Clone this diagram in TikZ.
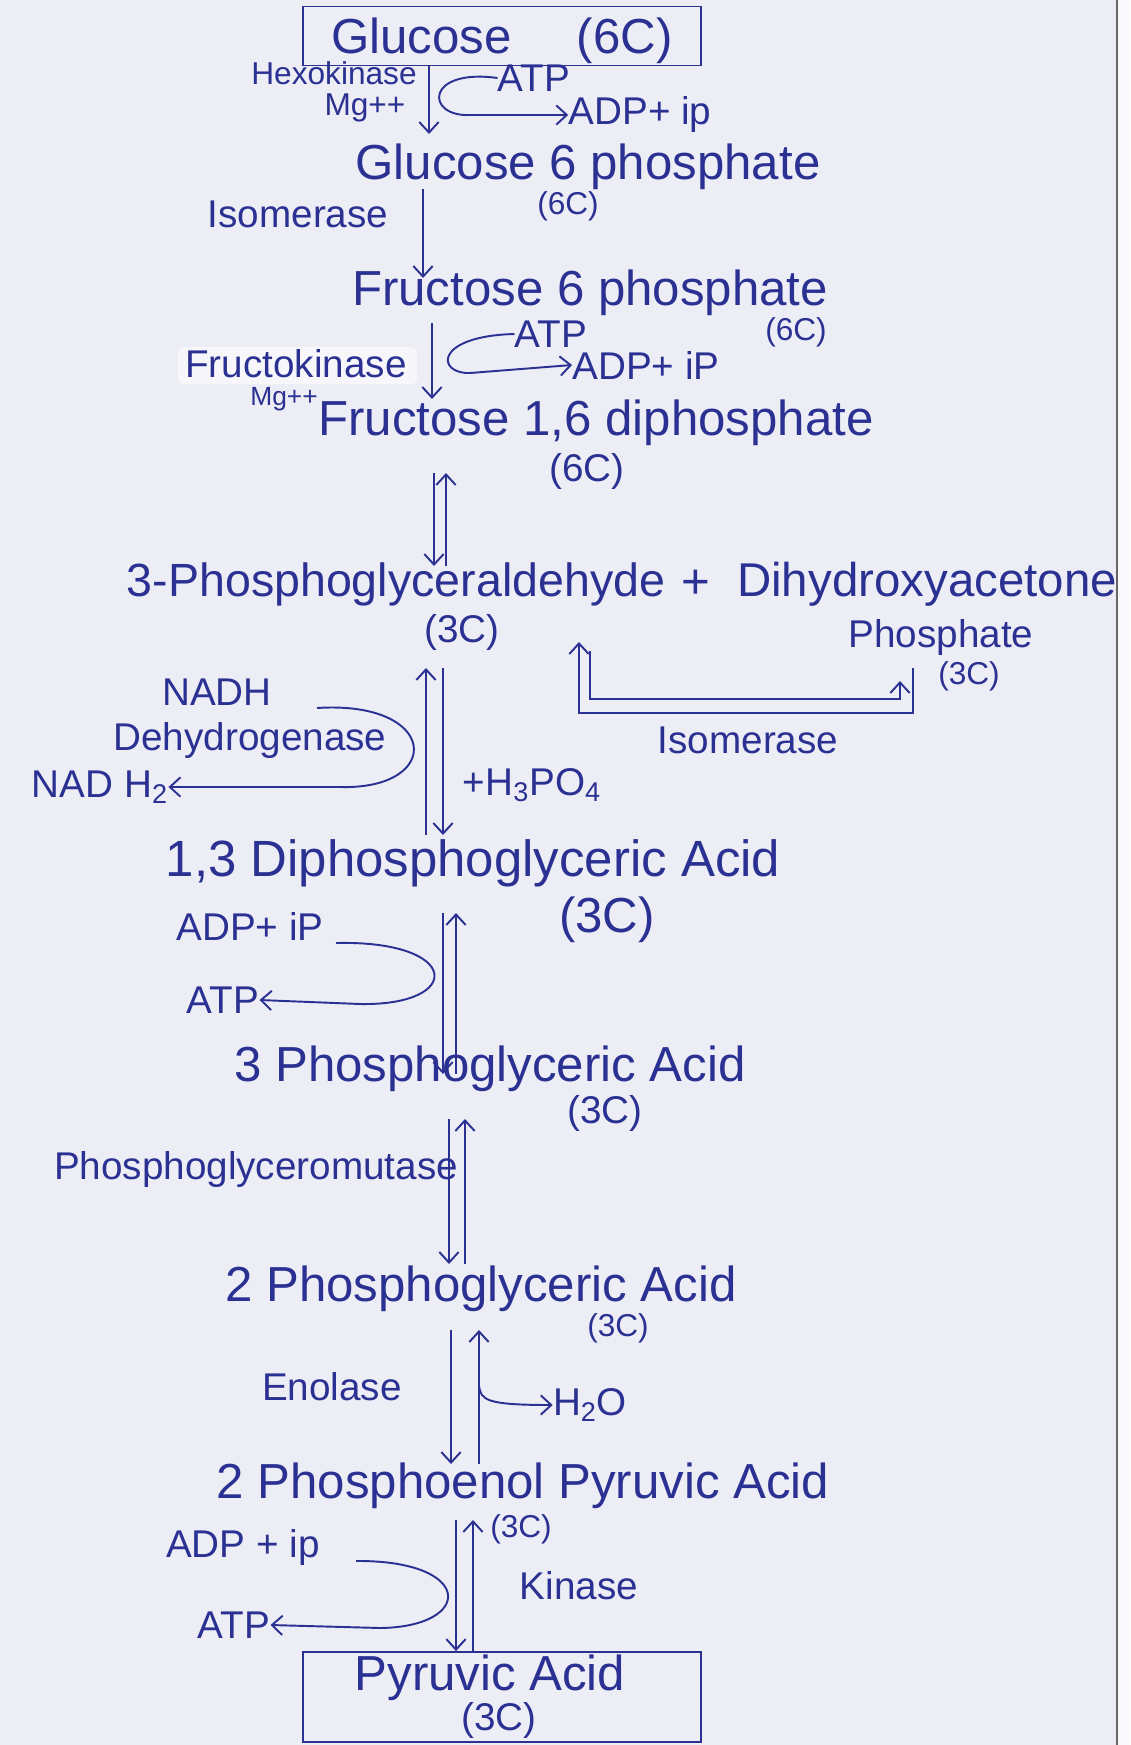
\documentclass[tikz,border=0pt]{standalone}
\usepackage{fontspec}
\setmainfont{Liberation Sans}
\usetikzlibrary{arrows.meta}
\definecolor{ink}{HTML}{2B3192}
\definecolor{paper}{HTML}{EDEDF6}
\begin{document}
\begin{tikzpicture}[x=0.02cm,y=-0.02cm,
  big/.style={text=ink,inner sep=0pt,font=\fontsize{28}{32}\selectfont},
  mid/.style={text=ink,inner sep=0pt,font=\fontsize{22}{26}\selectfont},
  small/.style={text=ink,inner sep=0pt,font=\fontsize{18}{21}\selectfont},
  tiny/.style={text=ink,inner sep=0pt,font=\fontsize{15}{18}\selectfont},
  boxed/.style={draw=ink,line width=1.1pt,inner sep=0pt,minimum width=7.96cm},
  flow/.style={draw=ink,line width=1.1pt,-{Straight Barb[length=6pt,width=11pt]}},
  plain/.style={draw=ink,line width=1.1pt}]
\useasboundingbox (0,0) rectangle (1130,1745);
\fill[paper] (0,0) rectangle (1130,1745);
\fill[white!70!paper] (1117,0) rectangle (1130,1745);
\draw[black!60,line width=1pt] (1117,0) -- (1117,1745);
% correction patch
\fill[white!55!paper,rounded corners=3pt] (178,347) rectangle (417,384);

% ---- nodes ----
\node[boxed,minimum height=1.18cm] (glc) at (502,36) {};
\node[big] (glct) at (502,41) {Glucose\hspace{1.3cm}(6C)};
\node[small] (hexo) at (334,73) {Hexokinase};
\node[small] (mg1) at (365,108) {Mg++};
\node[mid] (atp1) at (534,78) {ATP};
\node[mid] (adp1) at (640,115) {ADP+ ip};
\node[big] (g6p) at (588,167) {Glucose 6 phosphate};
\node[small] (c6a) at (568,206) {(6C)};
\node[mid] (iso1) at (298,214) {Isomerase};
\node[big] (f6p) at (590,293) {Fructose 6 phosphate};
\node[small] (c6b) at (796,332) {(6C)};
\node[mid] (fk) at (296,364) {Fructokinase};
\node[tiny] (mg2) at (284,399) {Mg++};
\node[mid] (atp2) at (551,334) {ATP};
\node[mid] (adp2) at (646,365) {ADP+ iP};
\node[big] (f16) at (596,423) {Fructose 1,6 diphosphate};
\node[mid] (c6c) at (587,471) {(6C)};
\node[big,font=\fontsize{26.5}{30}\selectfont] (pgal) at (396,584) {3-Phosphoglyceraldehyde};
\node[big] (plus) at (696,584) {+};
\node[big,font=\fontsize{27}{30}\selectfont] (dhap) at (927,584) {Dihydroxyacetone};
\node[mid] (phos) at (941,637) {Phosphate};
\node[mid] (c3a) at (462,632) {(3C)};
\node[small] (c3b) at (969,676) {(3C)};
\node[mid] (iso2) at (748,740) {Isomerase};
\node[mid] (nadh) at (217,692) {NADH};
\node[mid] (dehyd) at (250,740) {Dehydrogenase};
\node[mid] (nadh2) at (100,787) {NAD H\textsubscript{2}};
\node[mid] (h3po4) at (532,785) {+H\textsubscript{3}PO\textsubscript{4}};
\node[big,font=\fontsize{29}{32}\selectfont] (dpga) at (473,863) {1,3 Diphosphoglyceric Acid};
\node[big] (c3c) at (607,920) {(3C)};
\node[mid] (adp3) at (250,926) {ADP+ iP};
\node[mid] (atp3) at (223,1000) {ATP};
\node[big] (pga3) at (490,1069) {3 Phosphoglyceric Acid};
\node[mid] (c3d) at (605,1113) {(3C)};
\node[mid] (pgm) at (256,1169) {Phosphoglyceromutase};
\node[big] (pga2) at (481,1289) {2 Phosphoglyceric Acid};
\node[small] (c3e) at (618,1328) {(3C)};
\node[mid] (eno) at (332,1387) {Enolase};
\node[mid] (h2o) at (590,1405) {H\textsubscript{2}O};
\node[big] (pep) at (523,1486) {2 Phosphoenol Pyruvic Acid};
\node[small] (c3f) at (521,1529) {(3C)};
\node[mid] (adp4) at (243,1547) {ADP + ip};
\node[mid] (atp4) at (234,1625) {ATP};
\node[mid] (kin) at (579,1586) {Kinase};
\node[boxed,minimum height=1.8cm] (pyr) at (502,1697) {};
\node[big] (pyrt) at (490,1678) {Pyruvic Acid};
\node[mid] (pyrc) at (499,1720) {(3C)};

% ---- coordinates ----
\coordinate (e1) at (429,134);
\coordinate (e2t) at (423,189); \coordinate (e2b) at (423,278);
\coordinate (e3t) at (432,323); \coordinate (e3b) at (432,399);
\coordinate (d1lt) at (434,473); \coordinate (d1lb) at (434,566);
\coordinate (d1rt) at (446,473); \coordinate (d1rb) at (446,566);
\coordinate (d2lt) at (426,668); \coordinate (d2lb) at (426,835);
\coordinate (d2rt) at (443,668); \coordinate (d2rb) at (443,835);
\coordinate (d3lt) at (443,913); \coordinate (d3lb) at (443,1074);
\coordinate (d3rt) at (456,913); \coordinate (d3rb) at (456,1074);
\coordinate (d4lt) at (449,1119); \coordinate (d4lb) at (449,1264);
\coordinate (d4rt) at (465,1119); \coordinate (d4rb) at (465,1264);
\coordinate (d5lt) at (451,1330); \coordinate (d5lb) at (451,1464);
\coordinate (d5rt) at (479,1330); \coordinate (d5rb) at (479,1464);
\coordinate (d6lt) at (456,1520); \coordinate (d6rt) at (473,1520);
\coordinate (isoOs) at (913,668); \coordinate (isoOe) at (579,642);
\coordinate (isoIs) at (590,651); \coordinate (isoIe) at (900,681);
\coordinate (wb) at (479,1386);
\coordinate (nadhs) at (317,708);
\coordinate (adp3s) at (336,943);
\coordinate (adp4s) at (356,1561);

% ---- connectors ----
\draw[flow] (glc.south -| e1) -- (e1);
\draw[flow] (atp1.west) .. controls (425,68) and (425,117) .. (470,115) -- (adp1.west);
\draw[flow] (e2t) -- (e2b);
\draw[flow] (e3t) -- (e3b);
\draw[flow] (atp2.west) .. controls (434,336) and (436,374) .. (470,373) -- (adp2.west);
\draw[flow] (d1lt) -- (d1lb);
\draw[flow] (d1rb) -- (d1rt);
\draw[flow] (d2lb) -- (d2lt);
\draw[flow] (d2rt) -- (d2rb);
\draw[flow] (isoOs) -- (913,713) -- (579,713) -- (isoOe);
\draw[flow] (isoIs) -- (590,699) -- (900,699) -- (isoIe);
\draw[flow] (nadhs) .. controls (440,700) and (444,790) .. (340,787) -- (nadh2.east);
\draw[flow] (d3lt) -- (d3lb);
\draw[flow] (d3rb) -- (d3rt);
\draw[flow] (adp3s) .. controls (462,940) and (464,1006) .. (360,1004) -- (atp3.east);
\draw[flow] (d4lt) -- (d4lb);
\draw[flow] (d4rb) -- (d4rt);
\draw[flow] (d5lt) -- (d5lb);
\draw[flow] (d5rb) -- (d5rt);
\draw[flow] (wb) .. controls (481,1400) and (486,1405) .. (h2o.west);
\draw[flow] (d6lt) -- (pyr.north -| d6lt);
\draw[flow] (pyr.north -| d6rt) -- (d6rt);
\draw[flow] (adp4s) .. controls (475,1560) and (474,1627) .. (380,1628) -- (atp4.east);
\end{tikzpicture}
\end{document}
